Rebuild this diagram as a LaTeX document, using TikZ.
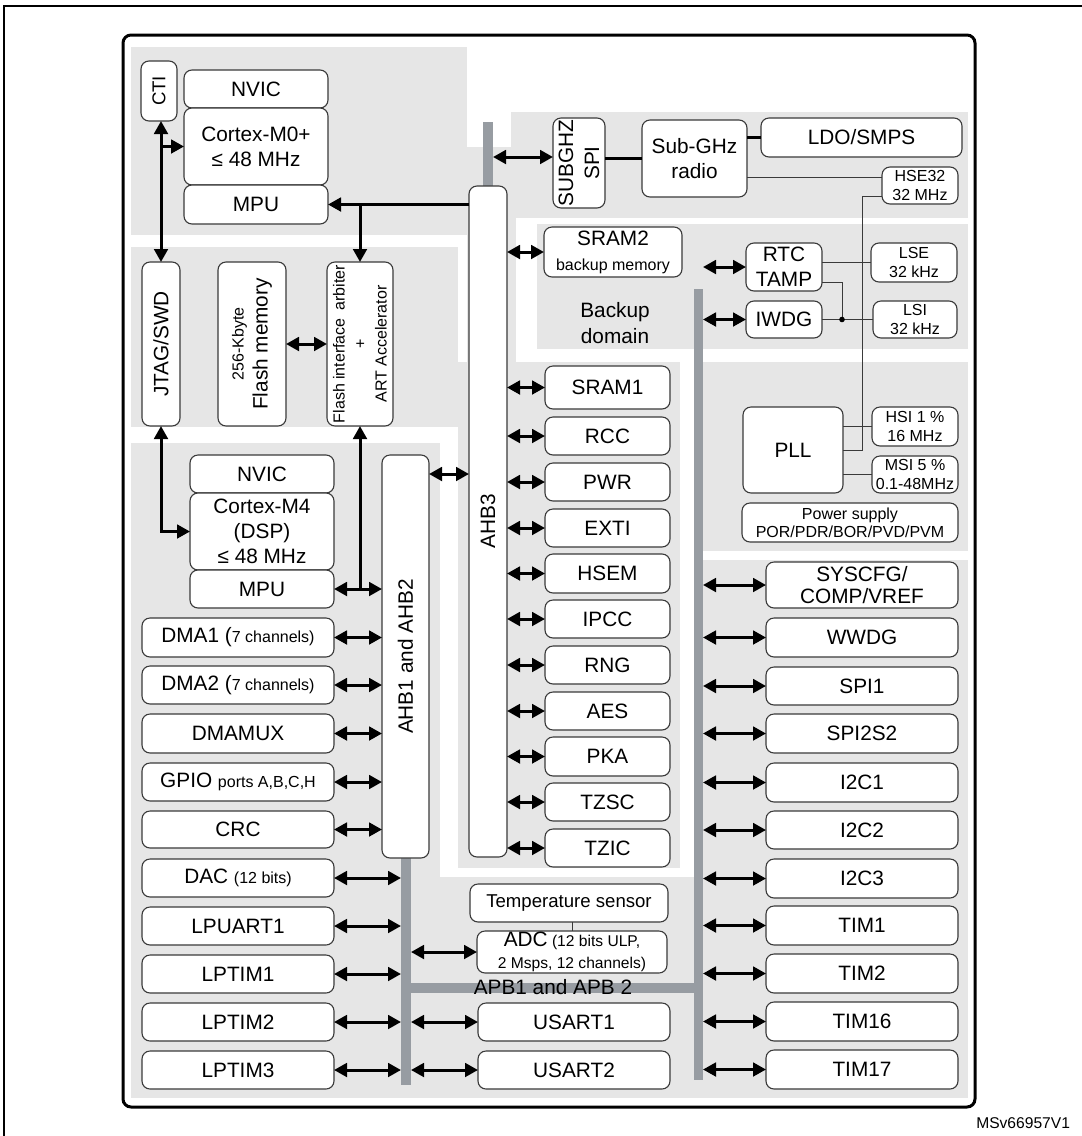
\documentclass[tikz,border=0pt]{standalone}
\usepackage{fontspec}
\setmainfont{Liberation Sans}
\usetikzlibrary{arrows.meta}
\definecolor{bg}{HTML}{E6E6E6}
\definecolor{busc}{HTML}{979CA2}
\definecolor{edge}{HTML}{3A3A3A}
\newcommand\fm{\fontsize{10.4}{12.5}\selectfont}
\newcommand\fs{\fontsize{8}{9.6}\selectfont}
\newcommand{\blk}[7][]{%
  \pgfmathsetmacro\bw{(#5-#3)*0.5}\pgfmathsetmacro\bh{(#6-#4)*0.5}%
  \node[box,minimum width=\bw pt,minimum height=\bh pt,#1] (#2) at ({(#3+#5)/2},{(#4+#6)/2}) {#7};}
\begin{document}
\begin{tikzpicture}[x=0.5pt,y=-0.5pt,
  box/.style={draw=edge,line width=0.55pt,rounded corners=4pt,fill=white,inner sep=0pt,outer sep=0pt,font=\fm,align=center},
  busbar/.style={draw=none,fill=busc,sharp corners},
  tip/.tip={Triangle[length=6.5pt,width=6.8pt]},
  arr/.style={line width=1.5pt,-tip},
  darr/.style={line width=1.5pt,tip-tip},
  thinl/.style={line width=0.5pt,draw=edge},
  thk/.style={line width=1.2pt}]
\useasboundingbox (0,0) rectangle (1082,1136);
\fill[white] (0,0) rectangle (1082,1136);
% outer frame
\draw[line width=1pt] (4,6) rectangle (1100,1160);
% grey regions
\fill[bg] (131,47) rectangle (467,235);
\fill[bg] (131,247) rectangle (458,427);
\fill[bg] (131,443) rectangle (440,1098);
\fill[bg] (131,877) rectangle (968,1098);
\fill[bg] (467,147) rectangle (516,440);
\fill[bg] (458,435) rectangle (516,868);
\fill[bg] (458,362) rectangle (680,868);
\fill[bg] (511,112) rectangle (968,218);
\fill[bg] (537,224) rectangle (968,349);
\fill[bg] (703,362) rectangle (968,551);
\fill[bg] (703,560) rectangle (968,1098);
% inner frame
\draw[line width=1.5pt,rounded corners=4pt] (123,35) rectangle (975,1107);

% bus bars
\blk[busbar]{ahbbus}{483}{122}{493}{187}{}
\blk[busbar]{lbus}{401}{857}{411}{1085}{}
\blk[busbar]{rbus}{694}{289}{703}{1080}{}
\blk[busbar]{hbus}{411}{983}{694}{993}{}
\node[font=\fm] (apbt) at (553,987) {APB1 and APB 2};

% top-left cluster
\blk{cti}{141}{61}{177}{121}{}
\node[rotate=90,font=\fontsize{9.3}{11}\selectfont] at (cti) {CTI};
\blk{nvic0}{184}{70}{328}{108}{NVIC}
\blk{cm0}{184}{108}{328}{185}{Cortex-M0+\\≤ 48 MHz}
\blk{mpu0}{184}{185}{328}{224}{MPU}

\blk{jtag}{142}{262}{180}{426}{}
\node[rotate=90,font=\fm] at (jtag) {JTAG/SWD};
\blk{flash}{218}{262}{286}{426}{}
\node[rotate=90,align=center,font=\fontsize{10.4}{12}\selectfont] at (flash) {\fs 256-Kbyte\\\fm Flash memory};
\blk{fif}{327}{262}{393}{426}{}
\node[rotate=90,align=center,font=\fontsize{8}{10.5}\selectfont] at (fif) {Flash interface\enspace arbiter\\+\\ART Accelerator};

\blk{nvic4}{190}{455}{334}{493}{NVIC}
\blk{cm4}{190}{493}{334}{570}{Cortex-M4\\(DSP)\\≤ 48 MHz}
\blk{mpu4}{190}{570}{334}{608}{MPU}
\blk{ahb1}{382}{455}{429}{858}{}
\node[rotate=90,font=\fm] at (ahb1) {AHB1 and AHB2};
\blk{ahb3}{469}{186}{507}{857}{}
\node[rotate=90,font=\fm] at (ahb3) {AHB3};

\blk{dma1}{142}{618}{334}{657}{DMA1 ({\fs 7 channels)}}
\blk{dma2}{142}{666}{334}{704}{DMA2 ({\fs 7 channels)}}
\blk{dmamux}{142}{714}{334}{753}{DMAMUX}
\blk{gpio}{142}{763}{334}{801}{GPIO {\fs ports A,B,C,H}}
\blk{crc}{142}{811}{334}{848}{CRC}
\blk{dac}{142}{859}{334}{897}{DAC {\fs (12 bits)}}
\blk{lpuart}{142}{907}{334}{945}{LPUART1}
\blk{lptim1}{142}{955}{334}{993}{LPTIM1}
\blk{lptim2}{142}{1003}{334}{1041}{LPTIM2}
\blk{lptim3}{142}{1051}{334}{1089}{LPTIM3}

% sub-GHz
\blk{subghz}{553}{118}{605}{208}{}
\node[rotate=90,align=center,font=\fontsize{10.4}{13}\selectfont] at (subghz) {SUBGHZ\\SPI};
\blk{radio}{642}{120}{747}{197}{Sub-GHz\\radio}
\blk{ldo}{761}{118}{962}{157}{LDO/SMPS}
\blk[font=\fs]{hse}{882}{167}{958}{204}{HSE32\\32 MHz}

% backup domain
\blk{sram2}{544}{227}{682}{277}{SRAM2\\{\fs backup memory}}
\node[font=\fontsize{10.4}{13}\selectfont,align=center] (bkd) at (615,323) {Backup\\domain};
\blk{rtc}{746}{243}{822}{291}{RTC\\TAMP}
\blk{iwdg}{746}{301}{822}{338}{IWDG}
\blk[font=\fs]{lse}{871}{243}{957}{282}{LSE\\32 kHz}
\blk[font=\fs]{lsi}{873}{301}{957}{338}{LSI\\32 kHz}

% PLL
\blk{pll}{743}{407}{843}{493}{PLL}
\blk[font=\fs]{hsi}{872}{407}{958}{446}{HSI 1 \%\\16 MHz}
\blk[font=\fs]{msi}{872}{456}{958}{493}{MSI 5 \%\\0.1-48MHz}
\blk[font=\fontsize{8}{8.8}\selectfont]{psup}{742}{503}{958}{542}{Power supply\\POR/PDR/BOR/PVD/PVM}

% AHB3 peripherals
\foreach \n/\a/\b/\t in {sram1/366/409/SRAM1,rcc/417/455/RCC,pwr/463/501/PWR,exti/509/547/EXTI,hsem/554/593/HSEM,ipcc/600/638/IPCC,rng/646/684/RNG,aes/692/730/AES,pka/737/776/PKA,tzsc/783/821/TZSC,tzic/829/867/TZIC}{
  \blk{\n}{545}{\a}{670}{\b}{\t}
  \draw[darr] (ahb3.east |- \n.west) -- (\n.west);
}
% APB peripherals right
\foreach \n/\a/\b/\t in {syscfg/562/608/{SYSCFG/\\[-1.5pt]COMP/VREF},wwdg/618/657/WWDG,spi1/667/705/SPI1,spisz/714/753/SPI2S2,iic1/763/802/I2C1,iic2/811/849/I2C2,iic3/859/898/I2C3,tim1/906/945/TIM1,tim2/954/993/TIM2,tim16/1002/1041/TIM16,tim17/1050/1089/TIM17}{
  \blk{\n}{766}{\a}{958}{\b}{\t}
  \draw[darr] (rbus.east |- \n.west) -- (\n.west);
}

% bottom middle
\blk[font=\fontsize{9.3}{11}\selectfont]{temp}{470}{884}{668}{922}{Temperature sensor}
\blk[font=\fontsize{7.8}{11}\selectfont]{adc}{477}{931}{667}{973}{{\fm ADC} (12 bits ULP,\\2 Msps, 12 channels)}
\blk{usart1}{478}{1003}{670}{1041}{USART1}
\blk{usart2}{478}{1051}{670}{1089}{USART2}

% connectors, left side
\coordinate (sgy) at (0,157);
\coordinate (hsey) at (0,177);
\coordinate (hsev) at (0,196);
\coordinate (vx) at (862,0);
\coordinate (rtcy) at (0,282);
\coordinate (dotx) at (842,0);
\draw[darr] (jtag.north |- cti.south) -- (jtag.north);
\draw[arr] (jtag.north |- cm0.west) -- (cm0.west);
\draw[darr] (jtag.south) |- (cm4.west);
\draw[arr] (ahb3.west |- mpu0.east) -- (mpu0.east);
\draw[arr] (fif.north |- mpu0.east) -- (fif.north);
\draw[darr] (flash.east) -- (fif.west);
\draw[line width=1.5pt,tip-] (fif.south) -- (fif.south |- mpu4.east);
\draw[darr] (mpu4.east) -- (ahb1.west |- mpu4.east);
\draw[darr] (ahb1.east |- nvic4.east) -- (ahb3.west |- nvic4.east);
\foreach \n in {dma1,dma2,dmamux,gpio,crc}{\draw[darr] (\n.east) -- (ahb1.west |- \n.east);}
\foreach \n in {dac,lpuart,lptim1,lptim2,lptim3}{\draw[darr] (\n.east) -- (lbus.west |- \n.east);}
\foreach \n in {adc,usart1,usart2}{\draw[darr] (lbus.east |- \n.west) -- (\n.west);}
\draw[thinl] (temp.south -| adc.north) -- (adc.north);

% connectors, top right
\draw[darr] (ahbbus.east |- sgy) -- (subghz.west |- sgy);
\draw[thk] (subghz.east |- radio.west) -- (radio.west);
\draw[thk] (radio.east |- ldo.west) -- (ldo.west);
\draw[thinl] (radio.east |- hsey) -- (hse.west |- hsey);
\draw[thinl] (hse.west |- hsev) -- (vx |- hsev) -- (vx |- pll.east) -- (pll.east);
\draw[darr] (ahb3.east |- sram2.west) -- (sram2.west);
\draw[darr] (rbus.east |- rtc.west) -- (rtc.west);
\draw[darr] (rbus.east |- iwdg.west) -- (iwdg.west);
\draw[thinl] (rtc.east |- lse.west) -- (lse.west);
\draw[thinl] (rtc.east |- rtcy) -- (dotx |- rtcy) -- (dotx |- iwdg.east);
\draw[thinl] (iwdg.east) -- (lsi.west);
\fill (dotx |- iwdg.east) circle[radius=1.4pt];
\draw[thinl] (pll.east |- hsi.west) -- (hsi.west);
\draw[thinl] (pll.east |- msi.west) -- (msi.west);

\node[font=\fontsize{7.8}{9}\selectfont,anchor=east] (msv) at (1077,1123) {MSv66957V1};
\end{tikzpicture}
\end{document}
